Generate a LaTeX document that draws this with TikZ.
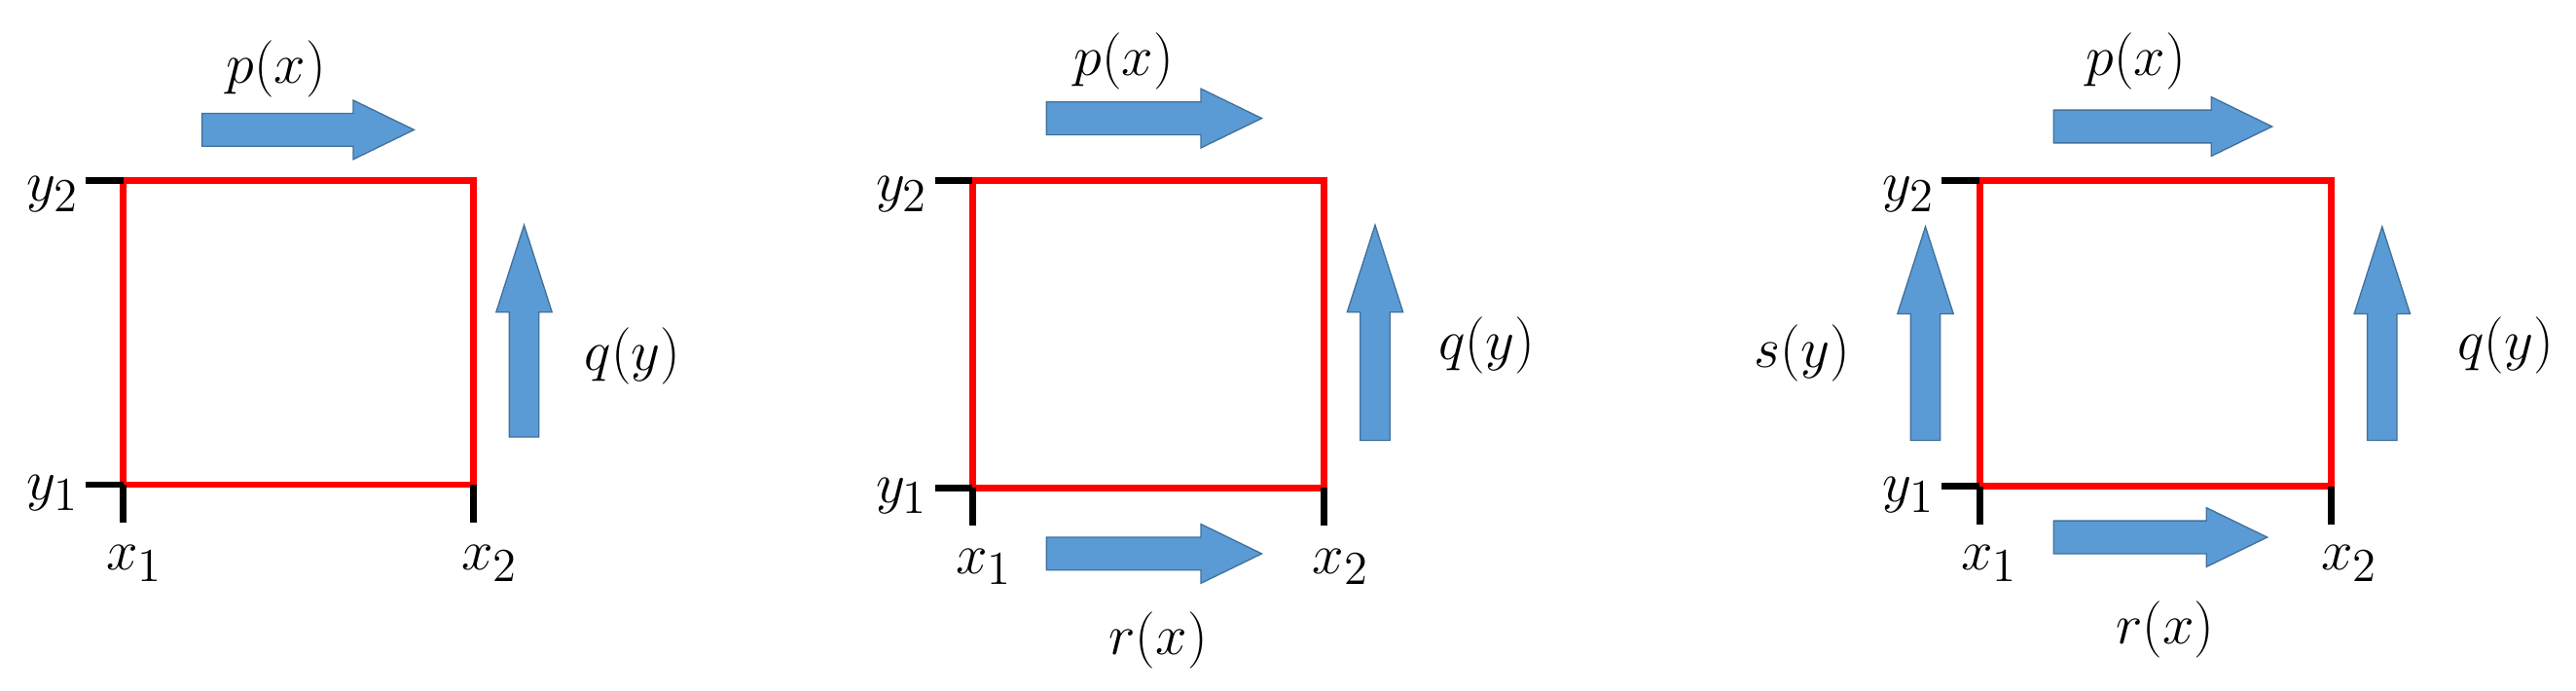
\documentclass[tikz,border=0pt]{standalone}
\definecolor{afill}{RGB}{91,155,213}
\definecolor{aedge}{RGB}{65,113,156}
\newcommand\harr[3]{\filldraw[arr] (#1,#3-10) -- (#2-37,#3-10) -- (#2-37,#3-18) -- (#2,#3) -- (#2-37,#3+18) -- (#2-37,#3+10) -- (#1,#3+10) -- cycle;}
\newcommand\varr[3]{\filldraw[arr] (#1-9,#2) -- (#1-9,#3+53) -- (#1-17,#3+53) -- (#1,#3) -- (#1+17,#3+53) -- (#1+9,#3+53) -- (#1+9,#2) -- cycle;}
\begin{document}
\begin{tikzpicture}[x=0.5pt,y=-0.5pt,
  arr/.style={fill=afill,draw=aedge,line width=0.4pt},
  box/.style={draw=red,line width=2pt},
  tick/.style={draw=black,line width=2pt},
  lab/.style={font=\fontsize{19}{22}\selectfont,inner sep=0pt}]
\useasboundingbox (0,0) rectangle (1568,420);
% panel 1
\draw[box] (75,110) rectangle (288,295);
\draw[tick] (52,110) -- (75,110); \draw[tick] (52,295) -- (75,295);
\draw[tick] (75,295) -- (75,318); \draw[tick] (288,295) -- (288,318);
\node[lab] (y2a) at (32,118) {$y_2$}; \node[lab] (y1a) at (32,300) {$y_1$};
\node[lab] (x1a) at (82,343) {$x_1$}; \node[lab] (x2a) at (298,343) {$x_2$};
\harr{123}{252}{79} \node[lab] (pa) at (168,42) {$p(x)$};
\varr{319}{266}{137} \node[lab] (qa) at (385,217) {$q(y)$};
% panel 2
\draw[box] (592,110) rectangle (806,297);
\draw[tick] (569,110) -- (592,110); \draw[tick] (569,297) -- (592,297);
\draw[tick] (592,297) -- (592,320); \draw[tick] (806,297) -- (806,320);
\node[lab] (y2b) at (549,118) {$y_2$}; \node[lab] (y1b) at (549,302) {$y_1$};
\node[lab] (x1b) at (599,345) {$x_1$}; \node[lab] (x2b) at (816,345) {$x_2$};
\harr{637}{768}{72} \node[lab] (pb) at (684,37) {$p(x)$};
\varr{837}{268}{137} \node[lab] (qb) at (905,210) {$q(y)$};
\harr{637}{768}{337} \node[lab] (rb) at (705,390) {$r(x)$};
% panel 3
\draw[box] (1205,110) rectangle (1419,296);
\draw[tick] (1182,110) -- (1205,110); \draw[tick] (1182,296) -- (1205,296);
\draw[tick] (1205,296) -- (1205,319); \draw[tick] (1419,296) -- (1419,319);
\node[lab] (y2c) at (1162,118) {$y_2$}; \node[lab] (y1c) at (1162,301) {$y_1$};
\node[lab] (x1c) at (1211,343) {$x_1$}; \node[lab] (x2c) at (1430,343) {$x_2$};
\harr{1250}{1383}{77} \node[lab] (pc) at (1300,37) {$p(x)$};
\varr{1450}{268}{138} \node[lab] (qc) at (1525,210) {$q(y)$};
\varr{1172}{268}{138} \node[lab] (sc) at (1097,215) {$s(y)$};
\harr{1250}{1380}{327} \node[lab] (rc) at (1318,383) {$r(x)$};
\end{tikzpicture}
\end{document}
